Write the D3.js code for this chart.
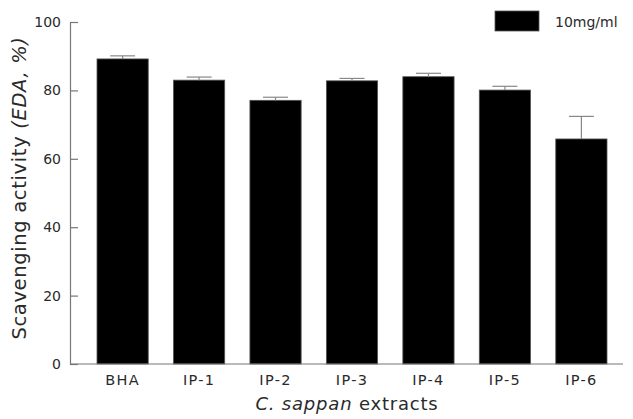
<!DOCTYPE html>
<html>
<head>
<meta charset="utf-8">
<script src="https://cdn.jsdelivr.net/npm/d3@7"></script>
<style>
  body { margin: 0; background: #fff; }
  text { font-family: 'DejaVu Sans', sans-serif; fill: #2a2a2a; }
</style>
</head>
<body>
<div id="chart"></div>
<script>
const categories = ['BHA', 'IP-1', 'IP-2', 'IP-3', 'IP-4', 'IP-5', 'IP-6']
const values = [89.2, 83.0, 77.1, 82.8, 84.0, 80.1, 65.8]
const errors = [0.9, 0.9, 0.9, 0.7, 1.0, 1.1, 6.6]
const yTicks = [0, 20, 40, 60, 80, 100]
const seriesName = '10mg/ml'

const width = 633
const height = 419
const margin = { top: 22, right: 10, bottom: 55, left: 70 }
const axisColor = '#777'

const svg = d3
  .select('#chart')
  .append('svg')
  .attr('width', width)
  .attr('height', height)

const xScale = d3
  .scaleBand()
  .domain(categories)
  .range([84, 620])
  .paddingInner(0.33)
  .paddingOuter(0.17)

const yScale = d3
  .scaleLinear()
  .domain([0, 100])
  .range([height - margin.bottom, margin.top])

// bars
svg
  .selectAll('rect.bar')
  .data(categories)
  .enter()
  .append('rect')
  .attr('class', 'bar')
  .attr('x', (d) => xScale(d))
  .attr('y', (d, i) => yScale(values[i]))
  .attr('width', xScale.bandwidth())
  .attr('height', (d, i) => yScale(0) - yScale(values[i]))
  .attr('fill', '#000')
  .attr('stroke', '#555')
  .attr('stroke-width', 0.8)

// error bars (upper only)
const err = svg.append('g').attr('stroke', '#888').attr('stroke-width', 1.2)
categories.forEach((c, i) => {
  const cx = xScale(c) + xScale.bandwidth() / 2
  err
    .append('line')
    .attr('x1', cx)
    .attr('x2', cx)
    .attr('y1', yScale(values[i]))
    .attr('y2', yScale(values[i] + errors[i]))
  err
    .append('line')
    .attr('x1', cx - 12.5)
    .attr('x2', cx + 12.5)
    .attr('y1', yScale(values[i] + errors[i]))
    .attr('y2', yScale(values[i] + errors[i]))
})

// y axis, ticks point inward
const yAxis = svg
  .append('g')
  .attr('transform', `translate(${margin.left}, 0)`)
  .call(d3.axisRight(yScale).tickValues(yTicks).tickSize(8).tickSizeOuter(0))
yAxis.select('.domain').attr('stroke', axisColor).attr('stroke-width', 1.2)
yAxis.selectAll('.tick line').attr('stroke', axisColor).attr('stroke-width', 1.2)
yAxis
  .selectAll('.tick text')
  .attr('x', -9)
  .attr('text-anchor', 'end')
  .style('font-size', '14px')

// x axis
const xAxis = svg
  .append('g')
  .attr('transform', `translate(0, ${yScale(0)})`)
  .call(d3.axisBottom(xScale).tickSize(0).tickPadding(11))
xAxis
  .select('.domain')
  .attr('d', `M${margin.left},0H623`)
  .attr('stroke', axisColor)
  .attr('stroke-width', 1.2)
xAxis
  .selectAll('.tick text')
  .style('font-size', '14.5px')
  .style('letter-spacing', '1.3px')

// axis titles
const yTitle = svg
  .append('text')
  .attr('transform', `translate(26, 188) rotate(-90)`)
  .attr('text-anchor', 'middle')
  .style('font-size', '19.5px')
  .style('letter-spacing', '0.65px')
yTitle.append('tspan').text('Scavenging activity ')
yTitle.append('tspan').style('font-style', 'italic').text('(EDA, %)')

const xTitle = svg
  .append('text')
  .attr('x', 347)
  .attr('y', 410)
  .attr('text-anchor', 'middle')
  .style('font-size', '18px')
  .style('letter-spacing', '0.8px')
xTitle.append('tspan').style('font-style', 'italic').text('C. sappan')
xTitle.append('tspan').text(' extracts')

// legend
const legend = svg.append('g').attr('transform', 'translate(495, 11)')
legend
  .append('rect')
  .attr('width', 44)
  .attr('height', 20)
  .attr('fill', '#000')
  .attr('stroke', '#555')
  .attr('stroke-width', 0.8)
legend
  .append('text')
  .attr('x', 60)
  .attr('y', 16)
  .style('font-size', '14px')
  .text(seriesName)
</script>
</body>
</html>
